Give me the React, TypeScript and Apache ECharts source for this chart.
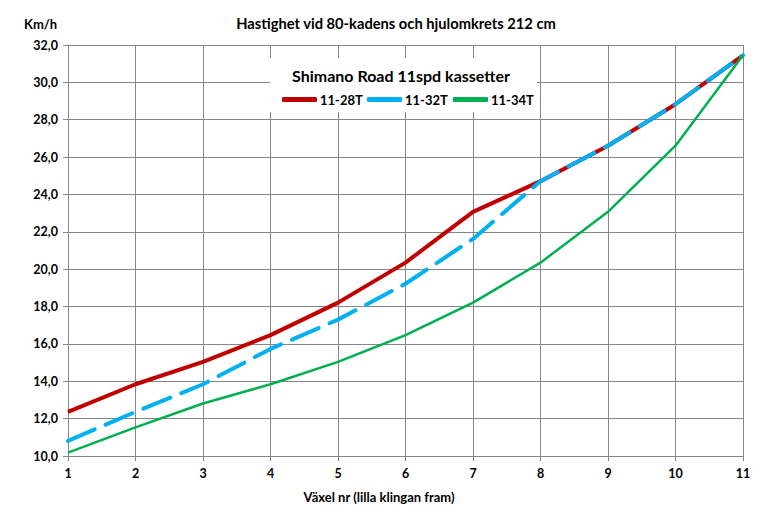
import React, { useEffect, useRef } from "react";
import * as echarts from "echarts";

const gears = ["1", "2", "3", "4", "5", "6", "7", "8", "9", "10", "11"];
const s1128 = [12.36, 13.84, 15.04, 16.47, 18.21, 20.35, 23.07, 24.71, 26.61, 28.83, 31.45];
const s1132 = [10.81, 12.36, 13.84, 15.73, 17.3, 19.22, 21.62, 24.71, 26.61, 28.83, 31.45];
const s1134 = [10.18, 11.53, 12.81, 13.84, 15.04, 16.47, 18.21, 20.35, 23.07, 26.61, 31.45];
const seriesNames = ["11-28T", "11-32T", "11-34T"];
const titleText = "Hastighet vid 80-kadens och hjulomkrets 212 cm";
const legendTitle = "Shimano Road 11spd kassetter";
const yName = "Km/h";
const xName = "Växel nr (lilla klingan fram)";

const FONT = "Lato, 'Noto Sans', sans-serif";

export default function App() {
  const ref = useRef<HTMLDivElement>(null);
  useEffect(() => {
    if (!ref.current) return;
    const chart = echarts.init(ref.current, null, { renderer: "svg" });
    const gray = "#868686";
    const legendLefts = [282, 367, 453];
    chart.setOption({
      animation: false,
      backgroundColor: "#fff",
      textStyle: { fontFamily: FONT },
      grid: { left: 68, right: 28, top: 45, bottom: 60, containLabel: false },
      xAxis: {
        type: "category",
        data: gears,
        boundaryGap: false,
        axisLine: { lineStyle: { color: gray, width: 1 } },
        axisTick: { show: true, length: 5, alignWithLabel: true, lineStyle: { color: gray } },
        axisLabel: { color: "#000", fontWeight: "bold", fontSize: 12.5, fontFamily: FONT, margin: 11 },
        splitLine: { show: true, lineStyle: { color: gray, width: 1 } },
      },
      yAxis: {
        type: "value",
        min: 10,
        max: 32,
        interval: 2,
        axisLine: { show: true, lineStyle: { color: gray, width: 1 } },
        axisTick: { show: true, length: 5, lineStyle: { color: gray } },
        axisLabel: {
          color: "#000",
          fontWeight: "bold",
          fontSize: 12.5,
          fontFamily: FONT,
          margin: 10,
          formatter: (v: number) => v.toFixed(1).replace(".", ","),
        },
        splitLine: { show: true, lineStyle: { color: gray, width: 1 } },
      },
      legend: seriesNames.map((n, i) => ({
        data: [{ name: n, icon: "roundRect" }],
        top: 93,
        left: legendLefts[i],
        padding: 0,
        itemWidth: 35,
        itemHeight: 5,
        z: 60,
        textStyle: { color: "#000", fontWeight: "bold", fontSize: 13, fontFamily: FONT, padding: [0, 0, 0, -2] },
        selectedMode: false,
      })),
      graphic: [
        {
          type: "rect",
          shape: { x: 270, y: 58, width: 267, height: 54 },
          style: { fill: "#fff" },
          z: 50,
          silent: true,
        },
        {
          type: "text",
          x: 401,
          y: 75,
          z: 51,
          style: {
            text: legendTitle,
            fontFamily: FONT,
            fontWeight: "bold",
            fontSize: 16,
            fill: "#000",
            align: "center",
            verticalAlign: "middle",
          },
        },
        {
          type: "text",
          x: 396,
          y: 23,
          style: {
            text: titleText,
            fontFamily: FONT,
            fontWeight: "bold",
            fontSize: 14.7,
            fill: "#000",
            align: "center",
            verticalAlign: "middle",
          },
        },
        {
          type: "text",
          x: 24,
          y: 24,
          style: {
            text: yName,
            fontFamily: FONT,
            fontWeight: "bold",
            fontSize: 13,
            fill: "#000",
            align: "left",
            verticalAlign: "middle",
          },
        },
        {
          type: "text",
          x: 379,
          y: 497,
          style: {
            text: xName,
            fontFamily: FONT,
            fontWeight: "bold",
            fontSize: 13,
            fill: "#000",
            align: "center",
            verticalAlign: "middle",
          },
        },
      ],
      series: [
        {
          name: seriesNames[0],
          type: "line",
          data: s1128,
          symbol: "none",
          color: "#C00000",
          lineStyle: { color: "#C00000", width: 4 },
        },
        {
          name: seriesNames[1],
          type: "line",
          data: s1132,
          symbol: "none",
          color: "#00B0F0",
          lineStyle: { color: "#00B0F0", width: 4, type: [29, 12], cap: "round" },
        },
        {
          name: seriesNames[2],
          type: "line",
          data: s1134,
          symbol: "none",
          color: "#00B050",
          lineStyle: { color: "#00B050", width: 2.5 },
        },
      ],
    });
    return () => chart.dispose();
  }, []);
  return (
    <div
      ref={ref}
      style={{ position: "fixed", left: 0, top: 0, width: 771, height: 516 }}
    />
  );
}
